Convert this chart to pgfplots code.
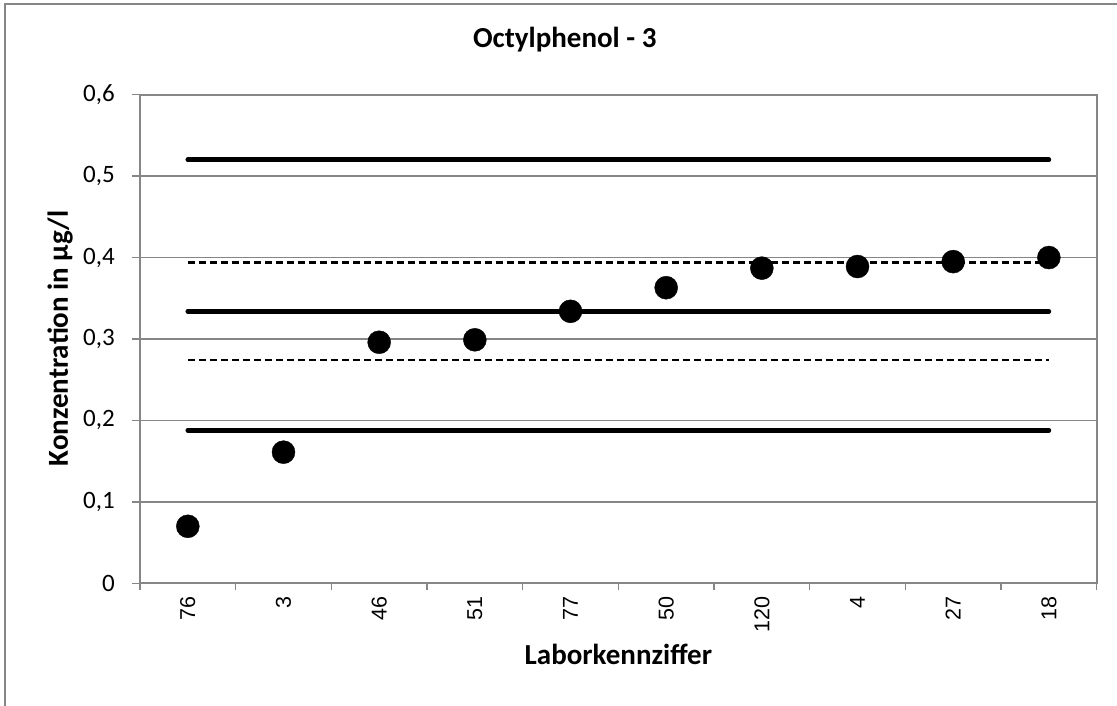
\documentclass[border=0pt]{standalone}
\usepackage{pgfplots}
\pgfplotsset{compat=1.18}
\usepackage{fontspec}
\setmainfont{Carlito}
\newfontfamily\arialf{Liberation Sans}
\definecolor{axgray}{RGB}{134,134,134}
\newcommand\yfont{\fontsize{25}{29}\selectfont}
\newcommand\xfont{\arialf\fontsize{21.5}{25}\selectfont}
\begin{document}
\begin{tikzpicture}[x=1pt,y=1pt]
\path[use as bounding box] (0,0) rectangle (1117,706);
\draw[axgray, line width=2pt] (4.5,0) -- (4.5,702) -- (1117,702);
\begin{axis}[
    at={(140pt,122.7pt)}, anchor=south west,
    scale only axis, width=956.7pt, height=488.6pt,
    xmin=-0.5, xmax=9.5, ymin=0, ymax=0.6,
    xtick={0,...,9},
    xticklabels={76,3,46,51,77,50,120,4,27,18},
    minor xtick={-0.5,0.5,...,9.5},
    ytick={0,0.1,0.2,0.3,0.4,0.5,0.6},
    yticklabels={0,{0,1},{0,2},{0,3},{0,4},{0,5},{0,6}},
    tick pos=left, tick align=outside,
    major tick length=8pt, minor tick length=7pt,
    major x tick style={draw=none},
    minor x tick style={axgray, line width=1.5pt},
    y tick style={axgray, line width=1.5pt},
    axis line style={axgray, line width=2pt},
    ymajorgrids, grid style={axgray, line width=1.3pt},
    xticklabel style={rotate=90, anchor=east, inner sep=0pt, xshift=-5.5pt, font=\xfont},
    yticklabel style={anchor=east, inner sep=0pt, xshift=-17pt, font=\yfont},
    title={Octylphenol - 3},
    title style={at={(axis description cs:0.444,1.0847)}, anchor=base, font=\bfseries\fontsize{29}{34}\selectfont},
    xlabel={Laborkennziffer},
    xlabel style={at={(axis description cs:0.5,-0.167)}, anchor=base, font=\bfseries\fontsize{29}{34}\selectfont},
    ylabel={Konzentration in µg/l},
    ylabel style={at={(axis description cs:-0.0836,0.5013)}, anchor=center, font=\bfseries\fontsize{29}{34}\selectfont},
]
\addplot[black, line width=4.7pt, line cap=round] coordinates {(0,0.520) (9,0.520)};
\addplot[black, line width=4.7pt, line cap=round] coordinates {(0,0.334) (9,0.334)};
\addplot[black, line width=4.7pt, line cap=round] coordinates {(0,0.188) (9,0.188)};
\addplot[black, line width=2.3pt, dash pattern=on 7pt off 4pt] coordinates {(0,0.394) (9,0.394)};
\addplot[black, line width=2.3pt, dash pattern=on 7pt off 4pt] coordinates {(0,0.274) (9,0.274)};
\addplot[only marks, mark=*, mark size=11.5pt, black] coordinates {
    (0,0.070) (1,0.161) (2,0.296) (3,0.299) (4,0.334)
    (5,0.363) (6,0.387) (7,0.389) (8,0.395) (9,0.400)
};
\end{axis}
\end{tikzpicture}
\end{document}
